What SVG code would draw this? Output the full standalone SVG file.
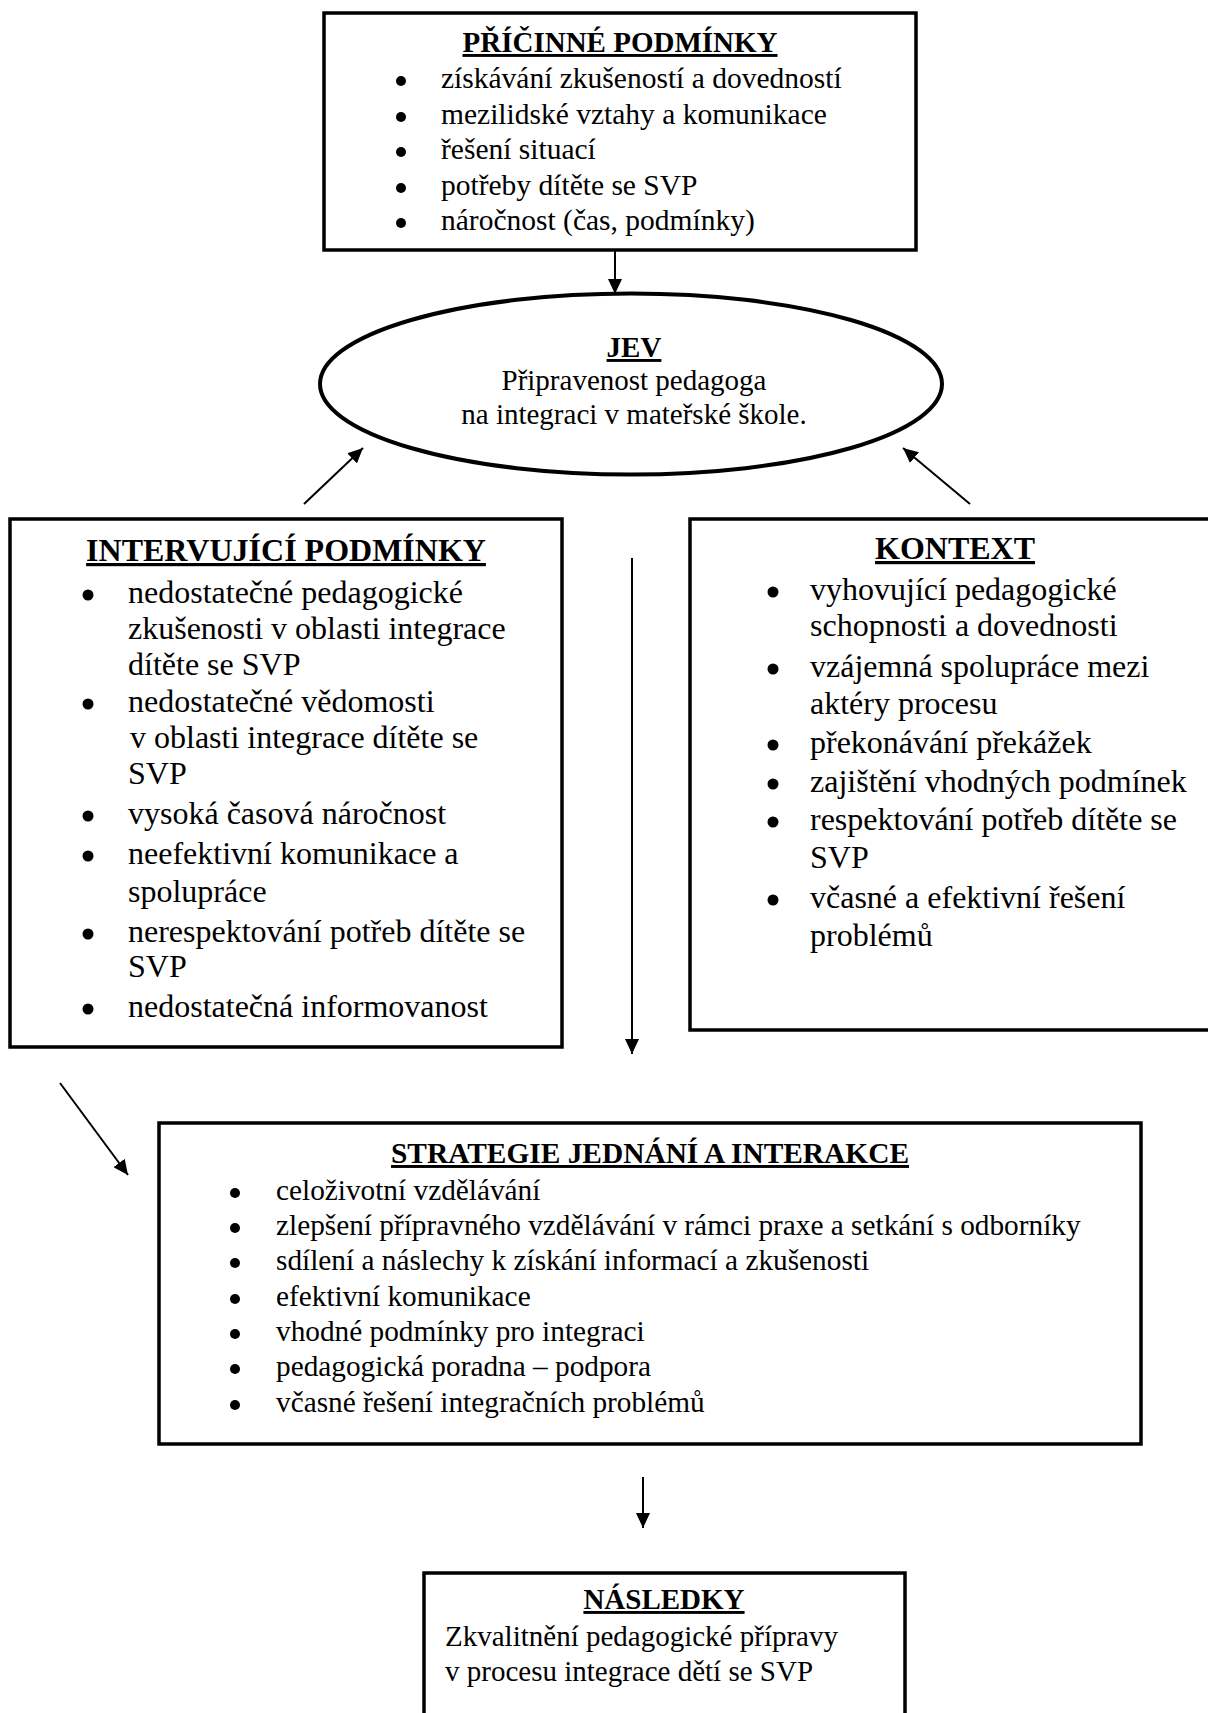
<svg xmlns="http://www.w3.org/2000/svg" width="1208" height="1713" viewBox="0 0 1208 1713">
<style>
.box{fill:#fff;stroke:#000;stroke-width:3.5}
.t{font-family:"Liberation Serif","Times New Roman",serif;fill:#000}
.h{font-weight:bold;text-decoration:underline;text-anchor:middle}
.s29{font-size:29px}
.s295{font-size:29.5px}
.s293{font-size:29.3px}
.s32{font-size:32px}
.c{text-anchor:middle}
.conn line{stroke:#000;stroke-width:2}
.b{fill:#000}
</style>
<defs>
<marker id="ah" markerUnits="userSpaceOnUse" markerWidth="16" markerHeight="14" refX="15" refY="7" orient="auto">
<path d="M0,0 L15,7 L0,14 z" fill="#000"/>
</marker>
</defs>
<rect width="1208" height="1713" fill="#fff"/>

<g id="pricinne">
<rect class="box" x="324" y="13" width="592" height="237"/>
<text class="t h s29" x="620" y="52">PŘÍČINNÉ PODMÍNKY</text>
<g class="b"><circle cx="401" cy="81" r="5"/><circle cx="401" cy="117" r="5"/><circle cx="401" cy="152" r="5"/><circle cx="401" cy="188" r="5"/><circle cx="401" cy="223" r="5"/></g>
<text class="t s295" x="441" y="88">získávání zkušeností a dovedností</text>
<text class="t s295" x="441" y="124">mezilidské vztahy a komunikace</text>
<text class="t s295" x="441" y="159">řešení situací</text>
<text class="t s295" x="441" y="195">potřeby dítěte se SVP</text>
<text class="t s295" x="441" y="230">náročnost (čas, podmínky)</text>
</g>

<g id="jev">
<ellipse cx="631" cy="384" rx="311" ry="90.5" fill="#fff" stroke="#000" stroke-width="4"/>
<text class="t h s29" x="634" y="357">JEV</text>
<text class="t s29 c" x="634" y="390">Připravenost pedagoga</text>
<text class="t s29 c" x="634" y="424">na integraci v mateřské škole.</text>
</g>

<g id="intervujici">
<rect class="box" x="10" y="519" width="552" height="528"/>
<text class="t h s32" x="286" y="561">INTERVUJÍCÍ PODMÍNKY</text>
<g class="b"><circle cx="88" cy="595" r="5.5"/><circle cx="88" cy="704" r="5.5"/><circle cx="88" cy="816" r="5.5"/><circle cx="88" cy="856" r="5.5"/><circle cx="88" cy="934" r="5.5"/><circle cx="88" cy="1009" r="5.5"/></g>
<text class="t s32" x="128" y="603">nedostatečné pedagogické</text>
<text class="t s32" x="128" y="639">zkušenosti v oblasti integrace</text>
<text class="t s32" x="128" y="675">dítěte se SVP</text>
<text class="t s32" x="128" y="712">nedostatečné vědomosti</text>
<text class="t s32" x="130" y="748">v oblasti integrace dítěte se</text>
<text class="t s32" x="128" y="784">SVP</text>
<text class="t s32" x="128" y="824">vysoká časová náročnost</text>
<text class="t s32" x="128" y="864">neefektivní komunikace a</text>
<text class="t s32" x="128" y="902">spolupráce</text>
<text class="t s32" x="128" y="942">nerespektování potřeb dítěte se</text>
<text class="t s32" x="128" y="977">SVP</text>
<text class="t s32" x="128" y="1017">nedostatečná informovanost</text>
</g>

<g id="kontext">
<rect class="box" x="690" y="519" width="530" height="511"/>
<text class="t h s32" x="955" y="559">KONTEXT</text>
<g class="b"><circle cx="773" cy="592" r="5.5"/><circle cx="773" cy="669" r="5.5"/><circle cx="773" cy="745" r="5.5"/><circle cx="773" cy="784" r="5.5"/><circle cx="773" cy="822" r="5.5"/><circle cx="773" cy="900" r="5.5"/></g>
<text class="t s32" x="810" y="600">vyhovující pedagogické</text>
<text class="t s32" x="810" y="636">schopnosti a dovednosti</text>
<text class="t s32" x="810" y="677">vzájemná spolupráce mezi</text>
<text class="t s32" x="810" y="714">aktéry procesu</text>
<text class="t s32" x="810" y="753">překonávání překážek</text>
<text class="t s32" x="810" y="792">zajištění vhodných podmínek</text>
<text class="t s32" x="810" y="830">respektování potřeb dítěte se</text>
<text class="t s32" x="810" y="868">SVP</text>
<text class="t s32" x="810" y="908">včasné a efektivní řešení</text>
<text class="t s32" x="810" y="946">problémů</text>
</g>

<g id="strategie">
<rect class="box" x="159" y="1123" width="982" height="321"/>
<text class="t h" style="font-size:29.4px" x="650" y="1163">STRATEGIE JEDNÁNÍ A INTERAKCE</text>
<g class="b"><circle cx="235" cy="1193" r="5"/><circle cx="235" cy="1228" r="5"/><circle cx="235" cy="1263" r="5"/><circle cx="235" cy="1299" r="5"/><circle cx="235" cy="1334" r="5"/><circle cx="235" cy="1369" r="5"/><circle cx="235" cy="1405" r="5"/></g>
<text class="t s293" x="276" y="1200">celoživotní vzdělávání</text>
<text class="t s293" x="276" y="1235">zlepšení přípravného vzdělávání v rámci praxe a setkání s odborníky</text>
<text class="t s293" x="276" y="1270">sdílení a náslechy k získání informací a zkušenosti</text>
<text class="t s293" x="276" y="1306">efektivní komunikace</text>
<text class="t s293" x="276" y="1341">vhodné podmínky pro integraci</text>
<text class="t s293" x="276" y="1376">pedagogická poradna – podpora</text>
<text class="t s293" x="276" y="1412">včasné řešení integračních problémů</text>
</g>

<g id="nasledky">
<rect class="box" x="424" y="1573" width="481" height="160"/>
<text class="t h s29" x="664" y="1609">NÁSLEDKY</text>
<text class="t s29" x="445" y="1646">Zkvalitnění pedagogické přípravy</text>
<text class="t s29" x="445" y="1681">v procesu integrace dětí se SVP</text>
</g>

<g id="connectors" class="conn">
<line x1="615" y1="250" x2="615" y2="294" marker-end="url(#ah)"/>
<line x1="304" y1="504" x2="363" y2="448" marker-end="url(#ah)"/>
<line x1="970" y1="504" x2="903" y2="448" marker-end="url(#ah)"/>
<line x1="632" y1="558" x2="632" y2="1054" marker-end="url(#ah)"/>
<line x1="60" y1="1083" x2="128" y2="1175" marker-end="url(#ah)"/>
<line x1="643" y1="1477" x2="643" y2="1528" marker-end="url(#ah)"/>
</g>
</svg>
